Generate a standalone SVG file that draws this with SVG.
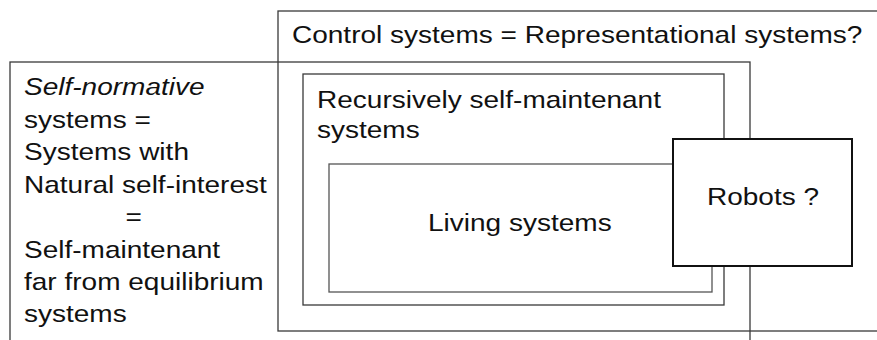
<svg xmlns="http://www.w3.org/2000/svg" width="877" height="340" viewBox="0 0 877 340">
<style>
.box{fill:none;stroke:#3a3a3a;stroke-width:1.3}
.inner{fill:none;stroke:#555;stroke-width:1.3}
.robot{fill:#fff;stroke:#111;stroke-width:2}
text{font-family:"Liberation Sans",Arial,sans-serif;font-size:24px;fill:#111}
.it{font-style:italic}
</style>
<rect width="877" height="340" fill="#fff"/>
<g id="self-normative">
<rect class="box" x="10" y="62" width="740" height="300"/>
<text class="it" transform="translate(24,95) scale(1.167,1)">Self-normative</text>
<text transform="translate(24,127.5) scale(1.167,1)">systems =</text>
<text transform="translate(24,160) scale(1.167,1)">Systems with</text>
<text transform="translate(24,192.5) scale(1.167,1)">Natural self-interest</text>
<text transform="translate(125.5,225) scale(1.167,1)">=</text>
<text transform="translate(24,257.5) scale(1.167,1)">Self-maintenant</text>
<text transform="translate(24,290) scale(1.167,1)">far from equilibrium</text>
<text transform="translate(24,322) scale(1.167,1)">systems</text>
</g>
<g id="control">
<rect class="box" x="278" y="11" width="640" height="320"/>
<text transform="translate(292,43) scale(1.167,1)">Control systems = Representational systems?</text>
</g>
<g id="recursive">
<rect class="box" x="303" y="74" width="421" height="231"/>
<text transform="translate(317,108) scale(1.167,1)">Recursively self-maintenant</text>
<text transform="translate(317,138) scale(1.167,1)">systems</text>
</g>
<g id="living">
<rect class="inner" x="329" y="164" width="383" height="128"/>
<text transform="translate(428,231) scale(1.167,1)">Living systems</text>
</g>
<g id="robots">
<rect class="robot" x="673" y="139" width="179" height="127"/>
<text transform="translate(707,205) scale(1.167,1)">Robots ?</text>
</g>
<g id="connectors"></g>
</svg>
